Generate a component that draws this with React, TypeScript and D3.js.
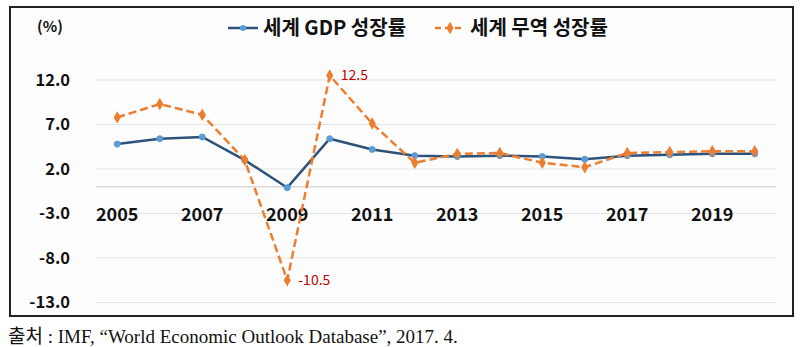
import React from "react";
import * as d3 from "d3";

const years = [2005, 2006, 2007, 2008, 2009, 2010, 2011, 2012, 2013, 2014, 2015, 2016, 2017, 2018, 2019, 2020];
const gdpGrowth = [4.8, 5.4, 5.6, 3.0, -0.1, 5.4, 4.2, 3.5, 3.4, 3.5, 3.4, 3.1, 3.5, 3.6, 3.7, 3.7];
const tradeGrowth = [7.8, 9.3, 8.1, 3.0, -10.5, 12.5, 7.1, 2.7, 3.7, 3.8, 2.7, 2.2, 3.8, 3.9, 4.0, 4.0];
const yTicks = [12, 7, 2, -3, -8, -13];
const xTickYears = [2005, 2007, 2009, 2011, 2013, 2015, 2017, 2019];
const seriesNames = ["세계 GDP 성장률", "세계 무역 성장률"];
const annotated = [
  { year: 2010, value: 12.5, label: "12.5" },
  { year: 2009, value: -10.5, label: "-10.5" },
];
const footer = "출처 : IMF, “World Economic Outlook Database”, 2017. 4.";

export default function App() {
  const W = 803, H = 347;
  const x = d3.scaleBand<number>().domain(years).range([96, 776]);
  const cx = (yr: number) => (x(yr) as number) + x.bandwidth() / 2;
  const y = d3.scaleLinear().domain([-13, 12]).range([302.5, 80]);

  const line = d3.line<number>().x((_, i) => cx(years[i])).y((v) => y(v));
  const blueLine = "#2f5279";
  const blueMarker = "#5b9bd5";
  const orange = "#ed7d31";
  const diamond = d3.symbol().type(d3.symbolDiamond).size(45)() as string;
  const sans = "'Noto Sans CJK KR', 'Noto Sans', sans-serif";

  return (
    <svg width={W} height={H} style={{ position: "absolute", left: 0, top: 0, background: "#fff" }}>
      <rect x={10} y={7} width={783} height={309} fill="#fdfdfd" stroke="#222" strokeWidth={2} />
      {/* gridlines */}
      {yTicks.map((t) => (
        <line key={t} x1={96} x2={776} y1={y(t)} y2={y(t)} stroke="#e3e3e3" strokeWidth={1} />
      ))}
      <line x1={96} x2={776} y1={y(0)} y2={y(0)} stroke="#d9d9d9" strokeWidth={1.5} />
      {/* y labels */}
      {yTicks.map((t) => (
        <text key={t} x={70} y={y(t)} dy="0.35em" textAnchor="end" fontFamily={sans} fontWeight="bold" fontSize={16.5} fill="#111">
          {t.toFixed(1)}
        </text>
      ))}
      <text x={50} y={27} dy="0.35em" textAnchor="middle" fontFamily={sans} fontWeight="bold" fontSize={15} fill="#111">(%)</text>
      {/* x labels */}
      {xTickYears.map((yr) => (
        <text key={yr} x={cx(yr)} y={215} dy="0.35em" textAnchor="middle" fontFamily={sans} fontWeight="bold" fontSize={18} fill="#111">
          {yr}
        </text>
      ))}
      {/* GDP line */}
      <path d={line(gdpGrowth) as string} fill="none" stroke={blueLine} strokeWidth={2.5} />
      {gdpGrowth.map((v, i) => (
        <circle key={i} cx={cx(years[i])} cy={y(v)} r={3} fill={blueMarker} stroke={blueMarker} />
      ))}
      {/* trade line */}
      <path d={line(tradeGrowth) as string} fill="none" stroke={orange} strokeWidth={2.5} strokeDasharray="8,4" />
      {tradeGrowth.map((v, i) => (
        <path key={i} d={diamond} transform={`translate(${cx(years[i])},${y(v)})`} fill={orange} />
      ))}
      {/* annotations */}
      {annotated.map((a) => (
        <text key={a.label} x={cx(a.year) + 11} y={y(a.value)} dy="0.35em" fontFamily={sans} fontSize={14} fill="#c00000">
          {a.label}
        </text>
      ))}
      {/* legend */}
      <line x1={228} x2={258} y1={28} y2={28} stroke={blueLine} strokeWidth={2.5} />
      <circle cx={243} cy={28} r={3} fill={blueMarker} />
      <text x={263} y={28} dy="0.35em" fontFamily={sans} fontWeight="bold" fontSize={20} fill="#111">{seriesNames[0]}</text>
      <line x1={435} x2={465} y1={28} y2={28} stroke={orange} strokeWidth={2.5} strokeDasharray="6,4" />
      <path d={diamond} transform="translate(450,28)" fill={orange} />
      <text x={470} y={28} dy="0.35em" fontFamily={sans} fontWeight="bold" fontSize={20} fill="#111">{seriesNames[1]}</text>
      {/* footer */}
      <text x={8} y={343} fontFamily="'Liberation Serif', 'Noto Sans CJK KR', serif" fontSize={19} fill="#111">{footer}</text>
    </svg>
  );
}
